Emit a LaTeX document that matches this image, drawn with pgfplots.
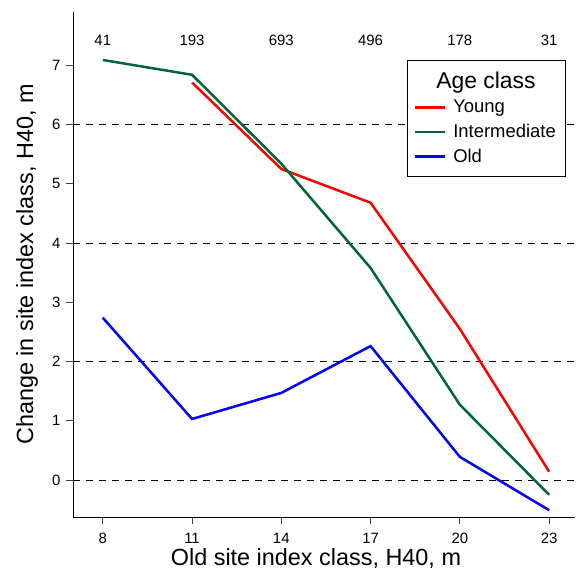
\documentclass[border=0pt]{standalone}
\usepackage{fontspec}
\setmainfont{Liberation Sans}
\usepackage{pgfplots}
\pgfplotsset{compat=1.18}

\definecolor{cyoung}{RGB}{255,0,0}
\definecolor{cinter}{RGB}{0,102,51}
\definecolor{cold}{RGB}{0,0,255}

\begin{document}
\begin{tikzpicture}
\useasboundingbox (-73bp,-54bp) rectangle (503bp,517bp);
\begin{axis}[
  scale only axis,
  width=502bp, height=505bp,
  xmin=7, xmax=23.87, ymin=-0.625, ymax=7.9,
  axis x line*=bottom, axis y line*=left,
  axis line style={line width=0.8bp},
  xtick={8,11,14,17,20,23}, ytick={0,1,...,7},
  tick align=outside, major tick length=7bp,
  tick style={line width=0.8bp,black!75},
  /pgf/number format/assume math mode=true,
  tick label style={font=\fontsize{15}{17}\selectfont},
  xticklabel style={yshift=-6bp},
  yticklabel style={xshift=-2bp},
  xlabel={Old site index class, H40, m},
  ylabel={Change in site index class, H40, m},
  label style={font=\fontsize{23.5}{27}\selectfont},
  xlabel style={at={(axis description cs:0.484,-0.082)},anchor=center},
  ylabel style={at={(axis description cs:-0.0916,0.5)},anchor=center},
  extra y ticks={0,2,4,6}, extra y tick labels={},
  extra y tick style={grid=major, major grid style={dash pattern=on 7bp off 6bp,black,line width=0.8bp}},
  legend cell align=left,
  legend style={at={(rel axis cs:0.980,0.905)}, anchor=north east,
    font=\fontsize{18.5}{21}\selectfont, draw=black,
    inner xsep=7bp, inner ysep=10bp, row sep=6bp, column sep=5bp},
  legend image code/.code={\draw[#1,line width=2.6bp] (0bp,0bp) -- (30bp,0bp);},
  clip=false,
]
\addlegendimage{empty legend}
\addlegendentry{\hspace{-17bp}\fontsize{23}{28}\selectfont Age class}
\addplot[cyoung, line width=2.5bp] coordinates {
  (11,6.71) (14,5.25) (17,4.68) (20,2.55) (23,0.14)
};
\addlegendentry{Young}
\addplot[cinter, line width=2.5bp] coordinates {
  (8,7.09) (11,6.84) (14,5.34) (17,3.58) (20,1.27) (23,-0.25)
};
\addlegendentry{Intermediate}
\addplot[cold, line width=2.5bp] coordinates {
  (8,2.74) (11,1.03) (14,1.47) (17,2.26) (20,0.39) (23,-0.51)
};
\addlegendentry{Old}
\foreach \xx/\nn in {8/41,11/193,14/693,17/496,20/178,23/31}{
  \edef\temp{\noexpand\node[font=\noexpand\fontsize{15}{17}\noexpand\selectfont] at (axis cs:\xx,7.42) {\nn};}
  \temp
}
\end{axis}
\end{tikzpicture}
\end{document}
